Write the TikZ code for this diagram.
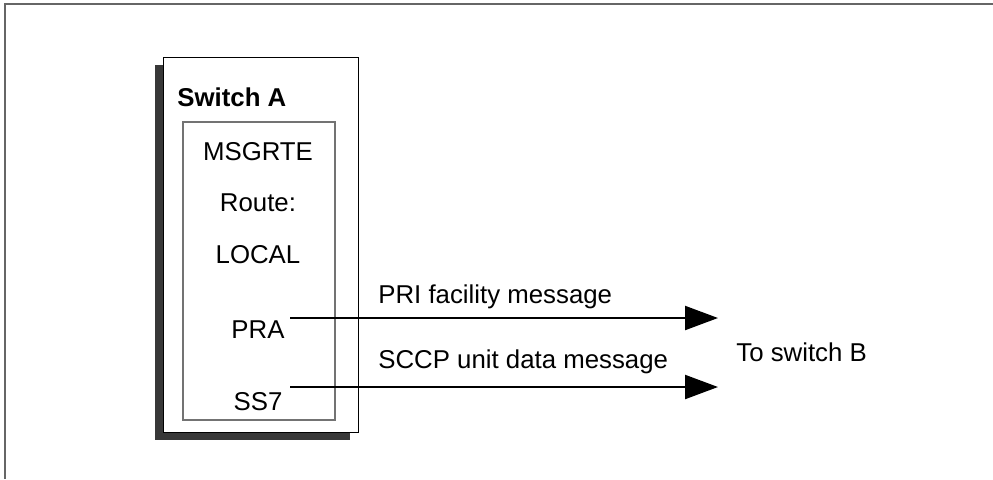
\documentclass[tikz,border=0pt]{standalone}
\usepackage{fontspec}
\setmainfont{Liberation Sans}
\usetikzlibrary{arrows.meta}
\begin{document}
\begin{tikzpicture}[x=0.5pt,y=-0.5pt,
  lbl/.style={inner sep=0pt,font=\fontsize{12.9}{15}\selectfont},
  msgarrow/.style={line width=1.1pt,-{Triangle[length=16.5pt,width=12pt]}},
  framerule/.style={draw=black!60,line width=1pt}]
  \useasboundingbox (0,0) rectangle (993,479);
  % page frame (top and left rules)
  \draw[framerule] (993,4) -- (5,4) -- (5,479);
  % Switch A box with drop shadow
  \fill[black!78] (155,65) rectangle (350,440);
  \draw[fill=white,line width=0.5pt] (163,57) rectangle (358,432);
  \node[lbl,anchor=west,font=\fontsize{12.9}{15}\selectfont\bfseries] (swa) at (177,97) {Switch A};
  % routing table box
  \draw[draw=black!55,line width=0.6pt] (183,122) rectangle (335,420);
  \node[lbl] (msgrte) at (258,152) {MSGRTE};
  \node[lbl] (route) at (258,203) {Route:};
  \node[lbl] (local) at (258,255) {LOCAL};
  \node[lbl] (pra) at (258,330) {PRA};
  \node[lbl] (ss7) at (258,402) {SS7};
  % messages to switch B
  \node[lbl,anchor=west] (swb) at (736,352) {To switch B};
  \coordinate (priS) at (290,318);
  \coordinate (priE) at (718,318);
  \coordinate (sccpS) at (290,387);
  \coordinate (sccpE) at (718,387);
  \draw[msgarrow] (priS) -- (priE);
  \draw[msgarrow] (sccpS) -- (sccpE);
  \node[lbl,anchor=west] (prilbl) at (378,297) {PRI facility message};
  \node[lbl,anchor=west] (sccplbl) at (378,362) {SCCP unit data message};
\end{tikzpicture}
\end{document}
